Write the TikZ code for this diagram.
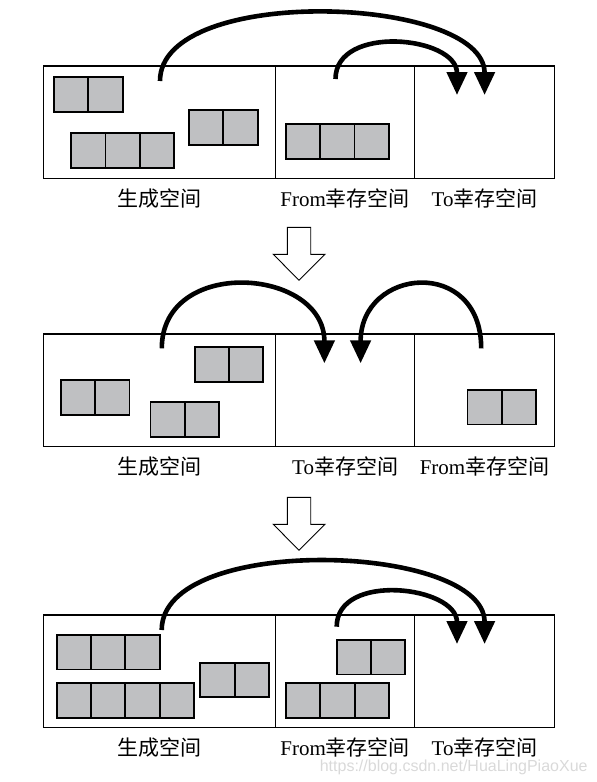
\documentclass[tikz,border=0pt]{standalone}
\usepackage{fontspec}
\setmainfont{Liberation Serif}
\newfontfamily\cjk{Noto Sans CJK SC}
\newfontfamily\wmfont{Liberation Sans}
\usetikzlibrary{positioning,calc,arrows.meta}
\tikzset{>={Triangle[length=23pt,width=20pt]}}
\definecolor{cellgray}{RGB}{191,192,194}
\tikzset{
  space/.style={draw,line width=1.3pt,minimum height=112.8pt,outer sep=0pt,inner sep=0pt},
  cell/.style={draw,line width=1.8pt,fill=cellgray},
  move/.style={->,line width=4.6pt},
  lab/.style={font=\fontsize{21}{25}\selectfont,inner sep=0pt},
  hollow/.style={draw,line width=0.9pt,fill=white,line join=miter},
}
% 一排对象: 左上角 x, y, 格数
\newcommand{\cellrow}[3]{%
  \foreach \k in {1,...,#3}
    \draw[cell] ({#1+(\k-1)*34.3},#2) rectangle +(34.3,34.5);
}

\begin{document}
\begin{tikzpicture}[x=1pt,y=-1pt]
  \useasboundingbox (0,0) rectangle (597,782);

  % 第一次: 生成空间 + From 复制到 To
  \node[space,minimum width=232.2pt,anchor=north west] (eden1) at (43.3,66) {};
  \node[space,minimum width=139.3pt,right=0pt of eden1] (from1) {};
  \node[space,minimum width=139.5pt,right=0pt of from1] (to1) {};
  \cellrow{54}{77.3}{2}
  \cellrow{71.2}{133.3}{3}
  \cellrow{189}{110.3}{2}
  \cellrow{285.9}{124.3}{3}
  \node[lab] (leden1) at ([yshift=-19.5pt]eden1.south) {\cjk 生成空间};
  \node[lab] (lfrom1) at ([yshift=-19.5pt]from1.south) {From{\cjk 幸存空间}};
  \node[lab] (lto1) at ([yshift=-19.5pt]to1.south) {To{\cjk 幸存空间}};
  \coordinate (p1a) at (160,81);    \coordinate (q1a) at (484.6,95);
  \coordinate (p1b) at (335.5,79);  \coordinate (q1b) at (457,95);
  \draw[move] (p1a) .. controls +(0,-97) and +(0,-100) .. (q1a);
  \draw[move] (p1b) .. controls +(0,-55) and +(0,-59) .. (q1b);

  % 空心箭头
  \foreach \y in {227.3,497.3}
    \draw[hollow] (287.3,\y) -- (310.7,\y) -- (310.7,\y+27) -- (325,\y+27)
      -- (299,\y+53) -- (273.3,\y+27) -- (287.3,\y+27) -- cycle;

  % 第二次: From 与 To 互换
  \node[space,minimum width=232.2pt,anchor=north west] (eden2) at (43.3,334) {};
  \node[space,minimum width=139.3pt,right=0pt of eden2] (to2) {};
  \node[space,minimum width=139.5pt,right=0pt of to2] (from2) {};
  \cellrow{60.9}{380.3}{2}
  \cellrow{150.5}{402.3}{2}
  \cellrow{194.6}{347.3}{2}
  \cellrow{467.4}{390}{2}
  \node[lab] (leden2) at ([yshift=-19.5pt]eden2.south) {\cjk 生成空间};
  \node[lab] (lto2) at ([yshift=-19.5pt]to2.south) {To{\cjk 幸存空间}};
  \node[lab] (lfrom2) at ([yshift=-19.5pt]from2.south) {From{\cjk 幸存空间}};
  \coordinate (p2a) at (161.8,348.3); \coordinate (q2a) at (324.4,363.3);
  \coordinate (p2b) at (481.2,348.3); \coordinate (q2b) at (360.6,363.3);
  \draw[move] (p2a) .. controls +(0,-92) and +(0,-96) .. (q2a);
  \draw[move] (p2b) .. controls +(0,-92) and +(0,-96) .. (q2b);

  % 第三次
  \node[space,minimum width=232.2pt,anchor=north west] (eden3) at (43.3,615) {};
  \node[space,minimum width=139.3pt,right=0pt of eden3] (from3) {};
  \node[space,minimum width=139.5pt,right=0pt of from3] (to3) {};
  \cellrow{56.7}{635}{3}
  \cellrow{56.7}{683.3}{4}
  \cellrow{200.3}{662.7}{2}
  \cellrow{336.7}{640}{2}
  \cellrow{286}{683.3}{3}
  \node[lab] (leden3) at ([yshift=-19.5pt]eden3.south) {\cjk 生成空间};
  \node[lab] (lfrom3) at ([yshift=-19.5pt]from3.south) {From{\cjk 幸存空间}};
  \node[lab] (lto3) at ([yshift=-19.5pt]to3.south) {To{\cjk 幸存空间}};
  \coordinate (p3a) at (161.7,630);   \coordinate (q3a) at (484.6,644);
  \coordinate (p3b) at (336.7,626.7); \coordinate (q3b) at (457,644);
  \draw[move] (p3a) .. controls +(0,-97) and +(0,-101) .. (q3a);
  \draw[move] (p3b) .. controls +(0,-55) and +(0,-58) .. (q3b);

  \node[font=\wmfont\fontsize{16}{18}\selectfont,text=black!15,inner sep=0pt] (wm)
    at (453.7,767.5) {https://blog.csdn.net/HuaLingPiaoXue};
\end{tikzpicture}
\end{document}
